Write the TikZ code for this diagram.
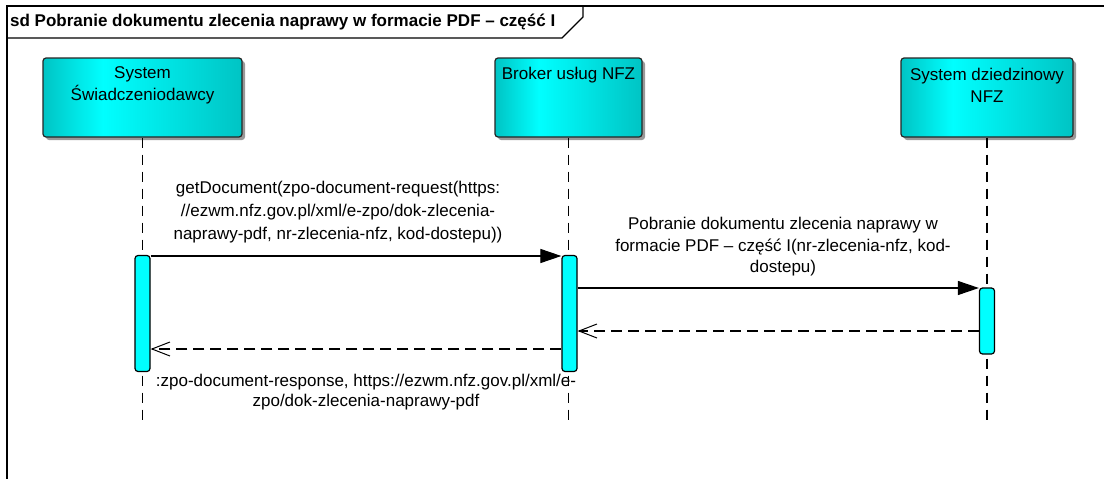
\documentclass[tikz,border=0pt]{standalone}
\usepackage{fontspec}
\setmainfont{Liberation Sans}
\usetikzlibrary{arrows.meta,shadows}
\definecolor{boxdark}{RGB}{0,196,196}
\definecolor{boxlight}{RGB}{0,255,255}
\definecolor{actfill}{RGB}{0,255,255}
\pgfdeclarehorizontalshading{eabox}{100bp}{color(0bp)=(boxdark); color(25bp)=(boxdark); color(40bp)=(boxlight); color(75bp)=(boxdark); color(100bp)=(boxdark)}
\begin{document}
\begin{tikzpicture}[x=1pt,y=-1pt,
  font=\fontsize{17}{22}\selectfont,
  lifebox/.style={draw=black!85, line width=1.2pt, rounded corners=3pt, shading=eabox,
    minimum height=79pt, inner sep=0pt,
    drop shadow={shadow xshift=3pt, shadow yshift=-3pt, fill=black!40, opacity=1}},
  boxtext/.style={align=center, inner sep=0pt},
  lifeline/.style={draw=black, line width=1.1pt, dash pattern=on 10pt off 7pt},
  act/.style={draw=black, fill=actfill, line width=1.2pt, rounded corners=3pt,
    minimum width=15pt, inner sep=0pt},
  call/.style={line width=1.1pt, -{Triangle[length=21pt,width=14pt]}},
  reply/.style={line width=1.1pt, dash pattern=on 11pt off 6pt,
    -{Straight Barb[length=18pt,width=14pt,line width=1pt]}},
  msglabel/.style={align=center, inner sep=0pt}
]
\useasboundingbox (0,0) rectangle (1104,479);
\fill[white] (0,0) rectangle (1104,479);

% frame
\draw[line width=1.2pt] (7,479) -- (7,6) -- (1104,6);
\draw[line width=1.2pt] (7,38) -- (562,38) -- (583,17) -- (583,6);
\node[anchor=west, inner sep=0pt, font=\bfseries\fontsize{17}{20}\selectfont] (title) at (10,22)
  {sd Pobranie dokumentu zlecenia naprawy w formacie PDF – część I};

% lifeline heads
\node[lifebox, minimum width=199pt] (A) at (142.5,97.5) {};
\node[lifebox, minimum width=147pt] (B) at (568.5,97.5) {};
\node[lifebox, minimum width=172pt] (C) at (987,97.5) {};
\node[boxtext] (At) at (142.5,85) {System\\Świadczeniodawcy};
\node[boxtext] (Bt) at (568.5,75) {Broker usług NFZ};
\node[boxtext] (Ct) at (987,85) {System dziedzinowy\\NFZ};

% lifeline ends
\coordinate (Aend) at (142.5,421);
\coordinate (Bend) at (568.5,421);
\coordinate (Cend) at (987,421);
\draw[lifeline] (A.south) -- (Aend);
\draw[lifeline] (B.south) -- (Bend);
\draw[lifeline] (C.south) -- (Cend);

% activations
\node[act, minimum height=116pt] (a1) at (142.5,313.5) {};
\node[act, minimum height=116pt] (a2) at (569.5,313.5) {};
\node[act, minimum height=66pt] (a3) at (987,321) {};

% message levels
\coordinate (m1) at (0,256);
\coordinate (m2) at (0,288);
\coordinate (m3) at (0,331);
\coordinate (m4) at (0,349);

\draw[call] (a1.east |- m1) -- (a2.west |- m1);
\draw[call] (a2.east |- m2) -- (a3.west |- m2);
\draw[reply] (a3.west |- m3) -- (a2.east |- m3);
\draw[reply] (a2.west |- m4) -- (a1.east |- m4);

% labels
\node[msglabel, font=\fontsize{17}{23}\selectfont] (l1) at (338,212)
  {getDocument(zpo-document-request(https:\\//ezwm.nfz.gov.pl/xml/e-zpo/dok-zlecenia-\\naprawy-pdf, nr-zlecenia-nfz, kod-dostepu))};
\node[msglabel, font=\fontsize{17}{21.5}\selectfont] (l2) at (783,247)
  {Pobranie dokumentu zlecenia naprawy w\\formacie PDF – część I(nr-zlecenia-nfz, kod-\\dostepu)};
\node[msglabel, font=\fontsize{17}{20.5}\selectfont] (l4) at (366,392)
  {:zpo-document-response, https://ezwm.nfz.gov.pl/xml/e-\\zpo/dok-zlecenia-naprawy-pdf};
\end{tikzpicture}
\end{document}
